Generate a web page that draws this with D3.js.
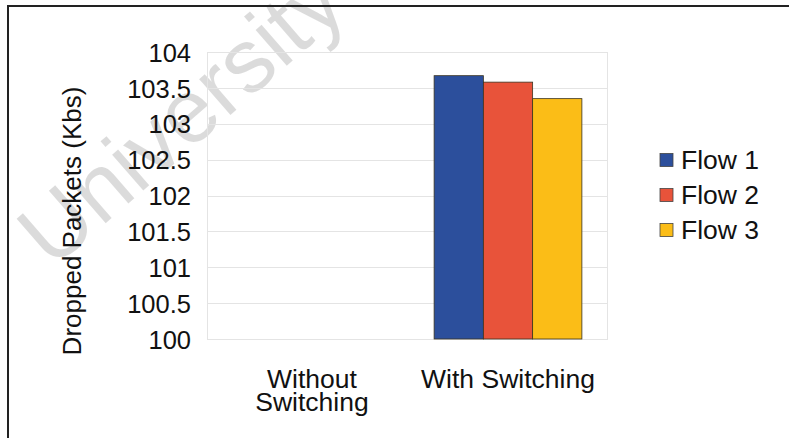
<!DOCTYPE html>
<html><head><meta charset="utf-8">
<script src="https://cdn.jsdelivr.net/npm/d3@7"></script>
<style>
html,body{margin:0;padding:0;background:#fff;}
svg{display:block;font-family:"Liberation Sans",Arial,sans-serif;}
</style></head>
<body>
<svg id="chart" width="789" height="438"></svg>
<script>
const categories = ["Without Switching", "With Switching"];
const seriesNames = ["Flow 1", "Flow 2", "Flow 3"];
const flow1 = [0, 103.67];
const flow2 = [0, 103.58];
const flow3 = [0, 103.35];
const yTicks = [100, 100.5, 101, 101.5, 102, 102.5, 103, 103.5, 104];
const colors = ["#2c4f9c", "#e8533a", "#fbbd17"];
const yTitle = "Dropped Packets (Kbs)";

const series = [flow1, flow2, flow3];
const svg = d3.select("#chart");
const W = 789, H = 438;

// watermark
svg.append("text")
  .attr("transform", "translate(52,270) rotate(-41)")
  .attr("font-size", 90)
  .attr("fill", "#000")
  .attr("fill-opacity", 0.14)
  .text("University");

// frame
svg.append("line").attr("x1", 7).attr("x2", W).attr("y1", 6).attr("y2", 6)
  .attr("stroke", "#222").attr("stroke-width", 2);
svg.append("line").attr("x1", 8).attr("x2", 8).attr("y1", 5).attr("y2", H)
  .attr("stroke", "#222").attr("stroke-width", 2);

const plot = {left: 207, right: 607, top: 52, bottom: 339};
const x0 = d3.scaleBand().domain(categories).range([plot.left, plot.right]).paddingInner(0).paddingOuter(0);
const x1 = d3.scaleBand().domain(seriesNames).range([0, x0.bandwidth()]).paddingInner(0).paddingOuter(0.53);
const y = d3.scaleLinear().domain([100, 104]).range([plot.bottom, plot.top]).clamp(true);

// gridlines
svg.append("g").selectAll("line").data(yTicks).join("line")
  .attr("x1", plot.left).attr("x2", plot.right)
  .attr("y1", d => Math.round(y(d)) + 0.5).attr("y2", d => Math.round(y(d)) + 0.5)
  .attr("stroke", "#e4e4e4").attr("stroke-width", 1);
// plot border
svg.append("rect").attr("x", plot.left + 0.5).attr("y", plot.top + 0.5)
  .attr("width", plot.right - plot.left).attr("height", plot.bottom - plot.top)
  .attr("fill", "none").attr("stroke", "#e4e4e4");

// bars
const groups = svg.append("g").selectAll("g").data(categories).join("g")
  .attr("transform", d => `translate(${x0(d) + 1},0)`);
groups.selectAll("rect").data((c, i) => series.map((s, k) => ({name: seriesNames[k], v: s[i], k})))
  .join("rect")
  .filter(d => d.v > 100)
  .attr("x", d => x1(d.name))
  .attr("width", x1.bandwidth())
  .attr("y", d => y(d.v))
  .attr("height", d => y(100) - y(d.v))
  .attr("fill", d => colors[d.k])
  .attr("stroke", "#3a3320").attr("stroke-width", 0.8);

// y axis
const yAxis = d3.axisLeft(y).tickValues(yTicks).tickSize(0).tickPadding(16)
  .tickFormat(d => String(d));
const ya = svg.append("g").attr("transform", `translate(${plot.left},0)`).call(yAxis);
ya.select(".domain").remove();
ya.selectAll("text").attr("font-size", 25.5).attr("fill", "#111")
  .attr("font-family", "Liberation Sans, Arial, sans-serif").attr("dy", "0.36em");

// x labels
const xLabelLines = {"Without Switching": ["Without", "Switching"], "With Switching": ["With Switching"]};
categories.forEach(c => {
  const t = svg.append("text").attr("text-anchor", "middle").attr("font-size", 26.5).attr("fill", "#111");
  xLabelLines[c].forEach((ln, i) => {
    t.append("tspan").attr("x", x0(c) + x0.bandwidth() / 2 + (c === "With Switching" ? 1 : 5))
      .attr("y", 388 + i * 23).text(ln);
  });
});

// y title
svg.append("text").attr("transform", "translate(81,221) rotate(-90)")
  .attr("text-anchor", "middle").attr("font-size", 26).attr("fill", "#111").text(yTitle);

// legend
const lg = svg.append("g").selectAll("g").data(seriesNames).join("g")
  .attr("transform", (d, i) => `translate(660,${160 + i * 35})`);
lg.append("rect").attr("x", 0).attr("y", -6.5).attr("width", 13).attr("height", 13)
  .attr("fill", (d, i) => colors[i]).attr("stroke", "#444").attr("stroke-width", 0.8);
lg.append("text").attr("x", 21).attr("y", 9).attr("font-size", 26.5).attr("fill", "#111").text(d => d);
</script>
</body></html>
